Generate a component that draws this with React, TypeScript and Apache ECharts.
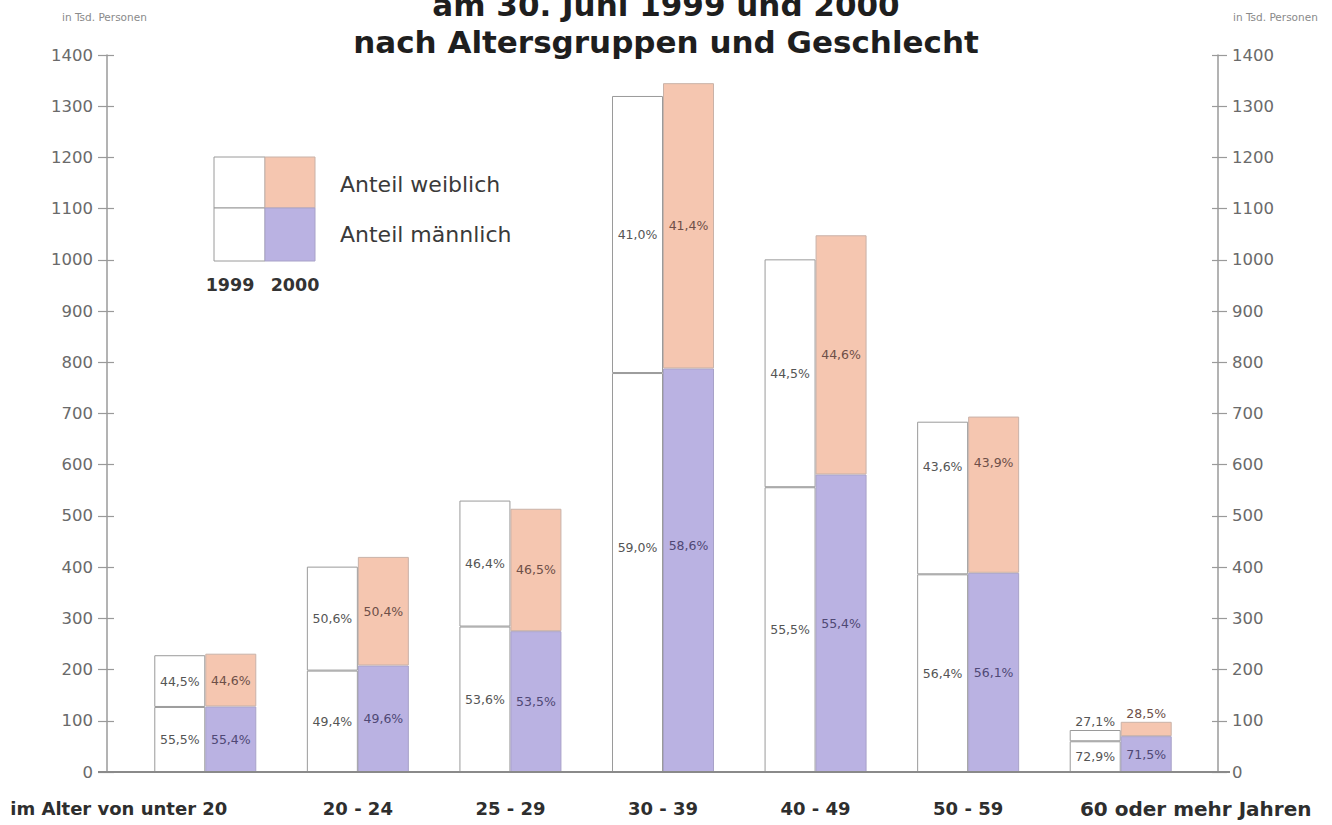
import React, { useEffect, useRef } from "react";
import * as echarts from "echarts";

const categories = [
  "im Alter von unter 20",
  "20 - 24",
  "25 - 29",
  "30 - 39",
  "40 - 49",
  "50 - 59",
  "60 oder mehr Jahren",
];
const male1999 = [127, 198, 284, 779, 556, 386, 60];
const female1999 = [101, 203, 246, 541, 445, 298, 22];
const male2000 = [128, 208, 275, 788, 581, 389, 70];
const female2000 = [103, 212, 239, 557, 467, 305, 28];
const pctMale1999 = ["55,5%", "49,4%", "53,6%", "59,0%", "55,5%", "56,4%", "72,9%"];
const pctFemale1999 = ["44,5%", "50,6%", "46,4%", "41,0%", "44,5%", "43,6%", "27,1%"];
const pctMale2000 = ["55,4%", "49,6%", "53,5%", "58,6%", "55,4%", "56,1%", "71,5%"];
const pctFemale2000 = ["44,6%", "50,4%", "46,5%", "41,4%", "44,6%", "43,9%", "28,5%"];
const yTicks = { min: 0, max: 1400, interval: 100 };

const FONT = "DejaVu Sans";
const PEACH = "#f5c6b0";
const LAVENDER = "#bab2e2";
const BORDER = "#9a9a9a";

// per-category label vertical tweaks (style only)
const maleOffset = [0, 0, 0, -25, 0, 0, 0];
const femaleOffset = [0, 0, 0, 0, 0, -32, 0];
const femaleTop = [false, false, false, false, false, false, true];

function buildData(values: number[], labels: string[], offsets: number[], color: string, top?: boolean[]) {
  return values.map((v, i) => ({
    value: v,
    label: {
      show: true,
      formatter: labels[i],
      position: top && top[i] ? "top" : "inside",
      distance: 2,
      offset: [0, offsets[i]],
      color,
      fontFamily: FONT,
      fontSize: 12.5,
    },
  }));
}

export default function App() {
  const ref = useRef<HTMLDivElement>(null);
  useEffect(() => {
    if (!ref.current) return;
    const chart = echarts.init(ref.current, undefined, { renderer: "svg" });
    const yCommon = {
      type: "value" as const,
      min: yTicks.min,
      max: yTicks.max,
      interval: yTicks.interval,
      splitLine: { show: false },
    };
    const yLabel = {
      margin: 14,
      color: "#6a6a6a",
      fontFamily: FONT,
      fontSize: 16.5,
      formatter: (v: number) => String(v),
    };
    const option: any = {
      animation: false,
      backgroundColor: "#ffffff",
      grid: { left: 129, right: 135, top: 55, bottom: 53, containLabel: false },
      xAxis: {
        type: "category",
        data: categories,
        axisLine: { show: false },
        axisTick: { show: false },
        axisLabel: {
          interval: 0,
          hideOverlap: false,
          margin: 27,
          fontFamily: FONT,
          fontWeight: "bold",
          fontSize: 18,
          color: "#2e2e2e",
          formatter: (v: string, i: number) => {
            if (i === 0) return "{first|" + v + "}";
            if (i === categories.length - 1) return "{last|" + v + "}";
            return v;
          },
          rich: {
            first: {
              fontFamily: FONT,
              fontWeight: "bold",
              fontSize: 18,
              color: "#2e2e2e",
              padding: [0, 173, 0, 0],
            },
            last: {
              fontFamily: FONT,
              fontWeight: "bold",
              fontSize: 20,
              color: "#2e2e2e",
              padding: [0, 0, 0, 150],
            },
          },
        },
      },
      yAxis: [
        {
          ...yCommon,
          position: "left",
          offset: 22,
          axisLine: { show: true, lineStyle: { color: BORDER, width: 1.5 } },
          axisTick: { show: true, length: 9, lineStyle: { color: BORDER, width: 1.2 } },
          axisLabel: yLabel,
        },
        {
          ...yCommon,
          position: "right",
          offset: 21,
          axisLine: { show: true, lineStyle: { color: BORDER, width: 1.5 } },
          axisTick: { show: true, length: 9, lineStyle: { color: BORDER, width: 1.2 } },
          axisLabel: yLabel,
        },
        {
          ...yCommon,
          position: "left",
          offset: 22,
          axisLine: { show: false },
          axisTick: { show: true, inside: true, length: 7, lineStyle: { color: BORDER, width: 1.2 } },
          axisLabel: { show: false },
        },
        {
          ...yCommon,
          position: "right",
          offset: 21,
          axisLine: { show: false },
          axisTick: { show: true, inside: true, length: 6, lineStyle: { color: BORDER, width: 1.2 } },
          axisLabel: { show: false },
        },
      ],
      series: [
        {
          name: "männlich 1999",
          type: "bar",
          stack: "1999",
          barWidth: 51,
          barGap: "0%",
          itemStyle: { color: "#ffffff", borderColor: BORDER, borderWidth: 1 },
          data: buildData(male1999, pctMale1999, maleOffset, "#555555"),
        },
        {
          name: "weiblich 1999",
          type: "bar",
          stack: "1999",
          barWidth: 51,
          barGap: "0%",
          itemStyle: { color: "#ffffff", borderColor: BORDER, borderWidth: 1 },
          data: buildData(female1999, pctFemale1999, femaleOffset, "#555555", femaleTop),
        },
        {
          name: "männlich 2000",
          type: "bar",
          stack: "2000",
          barWidth: 51,
          barGap: "0%",
          itemStyle: { color: LAVENDER, borderColor: "#a8a2c8", borderWidth: 1 },
          data: buildData(male2000, pctMale2000, maleOffset, "#4f4875"),
        },
        {
          name: "weiblich 2000",
          type: "bar",
          stack: "2000",
          barWidth: 51,
          barGap: "0%",
          itemStyle: { color: PEACH, borderColor: "#c9b2a8", borderWidth: 1 },
          data: buildData(female2000, pctFemale2000, femaleOffset, "#6e4f48", femaleTop),
        },
      ],
      graphic: [
        {
          type: "line",
          z: 10,
          shape: { x1: 98, y1: 772, x2: 1230, y2: 772 },
          style: { stroke: "#8a8a8a", lineWidth: 2 },
        },
        {
          type: "text",
          x: 666,
          y: 5,
          style: {
            text: "am 30. Juni 1999 und 2000",
            fontFamily: FONT,
            fontWeight: "bold",
            fontSize: 31,
            fill: "#1e1e1e",
            textAlign: "center",
            textVerticalAlign: "middle",
          },
        },
        {
          type: "text",
          x: 666,
          y: 42,
          style: {
            text: "nach Altersgruppen und Geschlecht",
            fontFamily: FONT,
            fontWeight: "bold",
            fontSize: 31,
            fill: "#1e1e1e",
            textAlign: "center",
            textVerticalAlign: "middle",
          },
        },
        {
          type: "text",
          x: 62,
          y: 17,
          style: {
            text: "in Tsd. Personen",
            fontFamily: FONT,
            fontSize: 10.5,
            fill: "#8a8a8a",
            textAlign: "left",
            textVerticalAlign: "middle",
          },
        },
        {
          type: "text",
          x: 1233,
          y: 17,
          style: {
            text: "in Tsd. Personen",
            fontFamily: FONT,
            fontSize: 10.5,
            fill: "#8a8a8a",
            textAlign: "left",
            textVerticalAlign: "middle",
          },
        },
        {
          type: "rect",
          shape: { x: 214, y: 157, width: 51, height: 51 },
          style: { fill: "#ffffff", stroke: BORDER, lineWidth: 1 },
        },
        {
          type: "rect",
          shape: { x: 214, y: 208, width: 51, height: 53 },
          style: { fill: "#ffffff", stroke: BORDER, lineWidth: 1 },
        },
        {
          type: "rect",
          shape: { x: 265, y: 157, width: 50, height: 51 },
          style: { fill: PEACH, stroke: "#c9b2a8", lineWidth: 1 },
        },
        {
          type: "rect",
          shape: { x: 265, y: 208, width: 50, height: 53 },
          style: { fill: LAVENDER, stroke: "#a8a2c8", lineWidth: 1 },
        },
        {
          type: "text",
          x: 340,
          y: 184,
          style: {
            text: "Anteil weiblich",
            fontFamily: FONT,
            fontSize: 22,
            fill: "#3a3a3a",
            textAlign: "left",
            textVerticalAlign: "middle",
          },
        },
        {
          type: "text",
          x: 340,
          y: 234,
          style: {
            text: "Anteil männlich",
            fontFamily: FONT,
            fontSize: 22,
            fill: "#3a3a3a",
            textAlign: "left",
            textVerticalAlign: "middle",
          },
        },
        {
          type: "text",
          x: 230,
          y: 285,
          style: {
            text: "1999",
            fontFamily: FONT,
            fontWeight: "bold",
            fontSize: 17.5,
            fill: "#333333",
            textAlign: "center",
            textVerticalAlign: "middle",
          },
        },
        {
          type: "text",
          x: 295,
          y: 285,
          style: {
            text: "2000",
            fontFamily: FONT,
            fontWeight: "bold",
            fontSize: 17.5,
            fill: "#333333",
            textAlign: "center",
            textVerticalAlign: "middle",
          },
        },
      ],
    };
    chart.setOption(option);
    return () => chart.dispose();
  }, []);
  return (
    <div
      ref={ref}
      style={{ position: "absolute", left: 0, top: 0, width: 1332, height: 825, background: "#fff" }}
    />
  );
}
